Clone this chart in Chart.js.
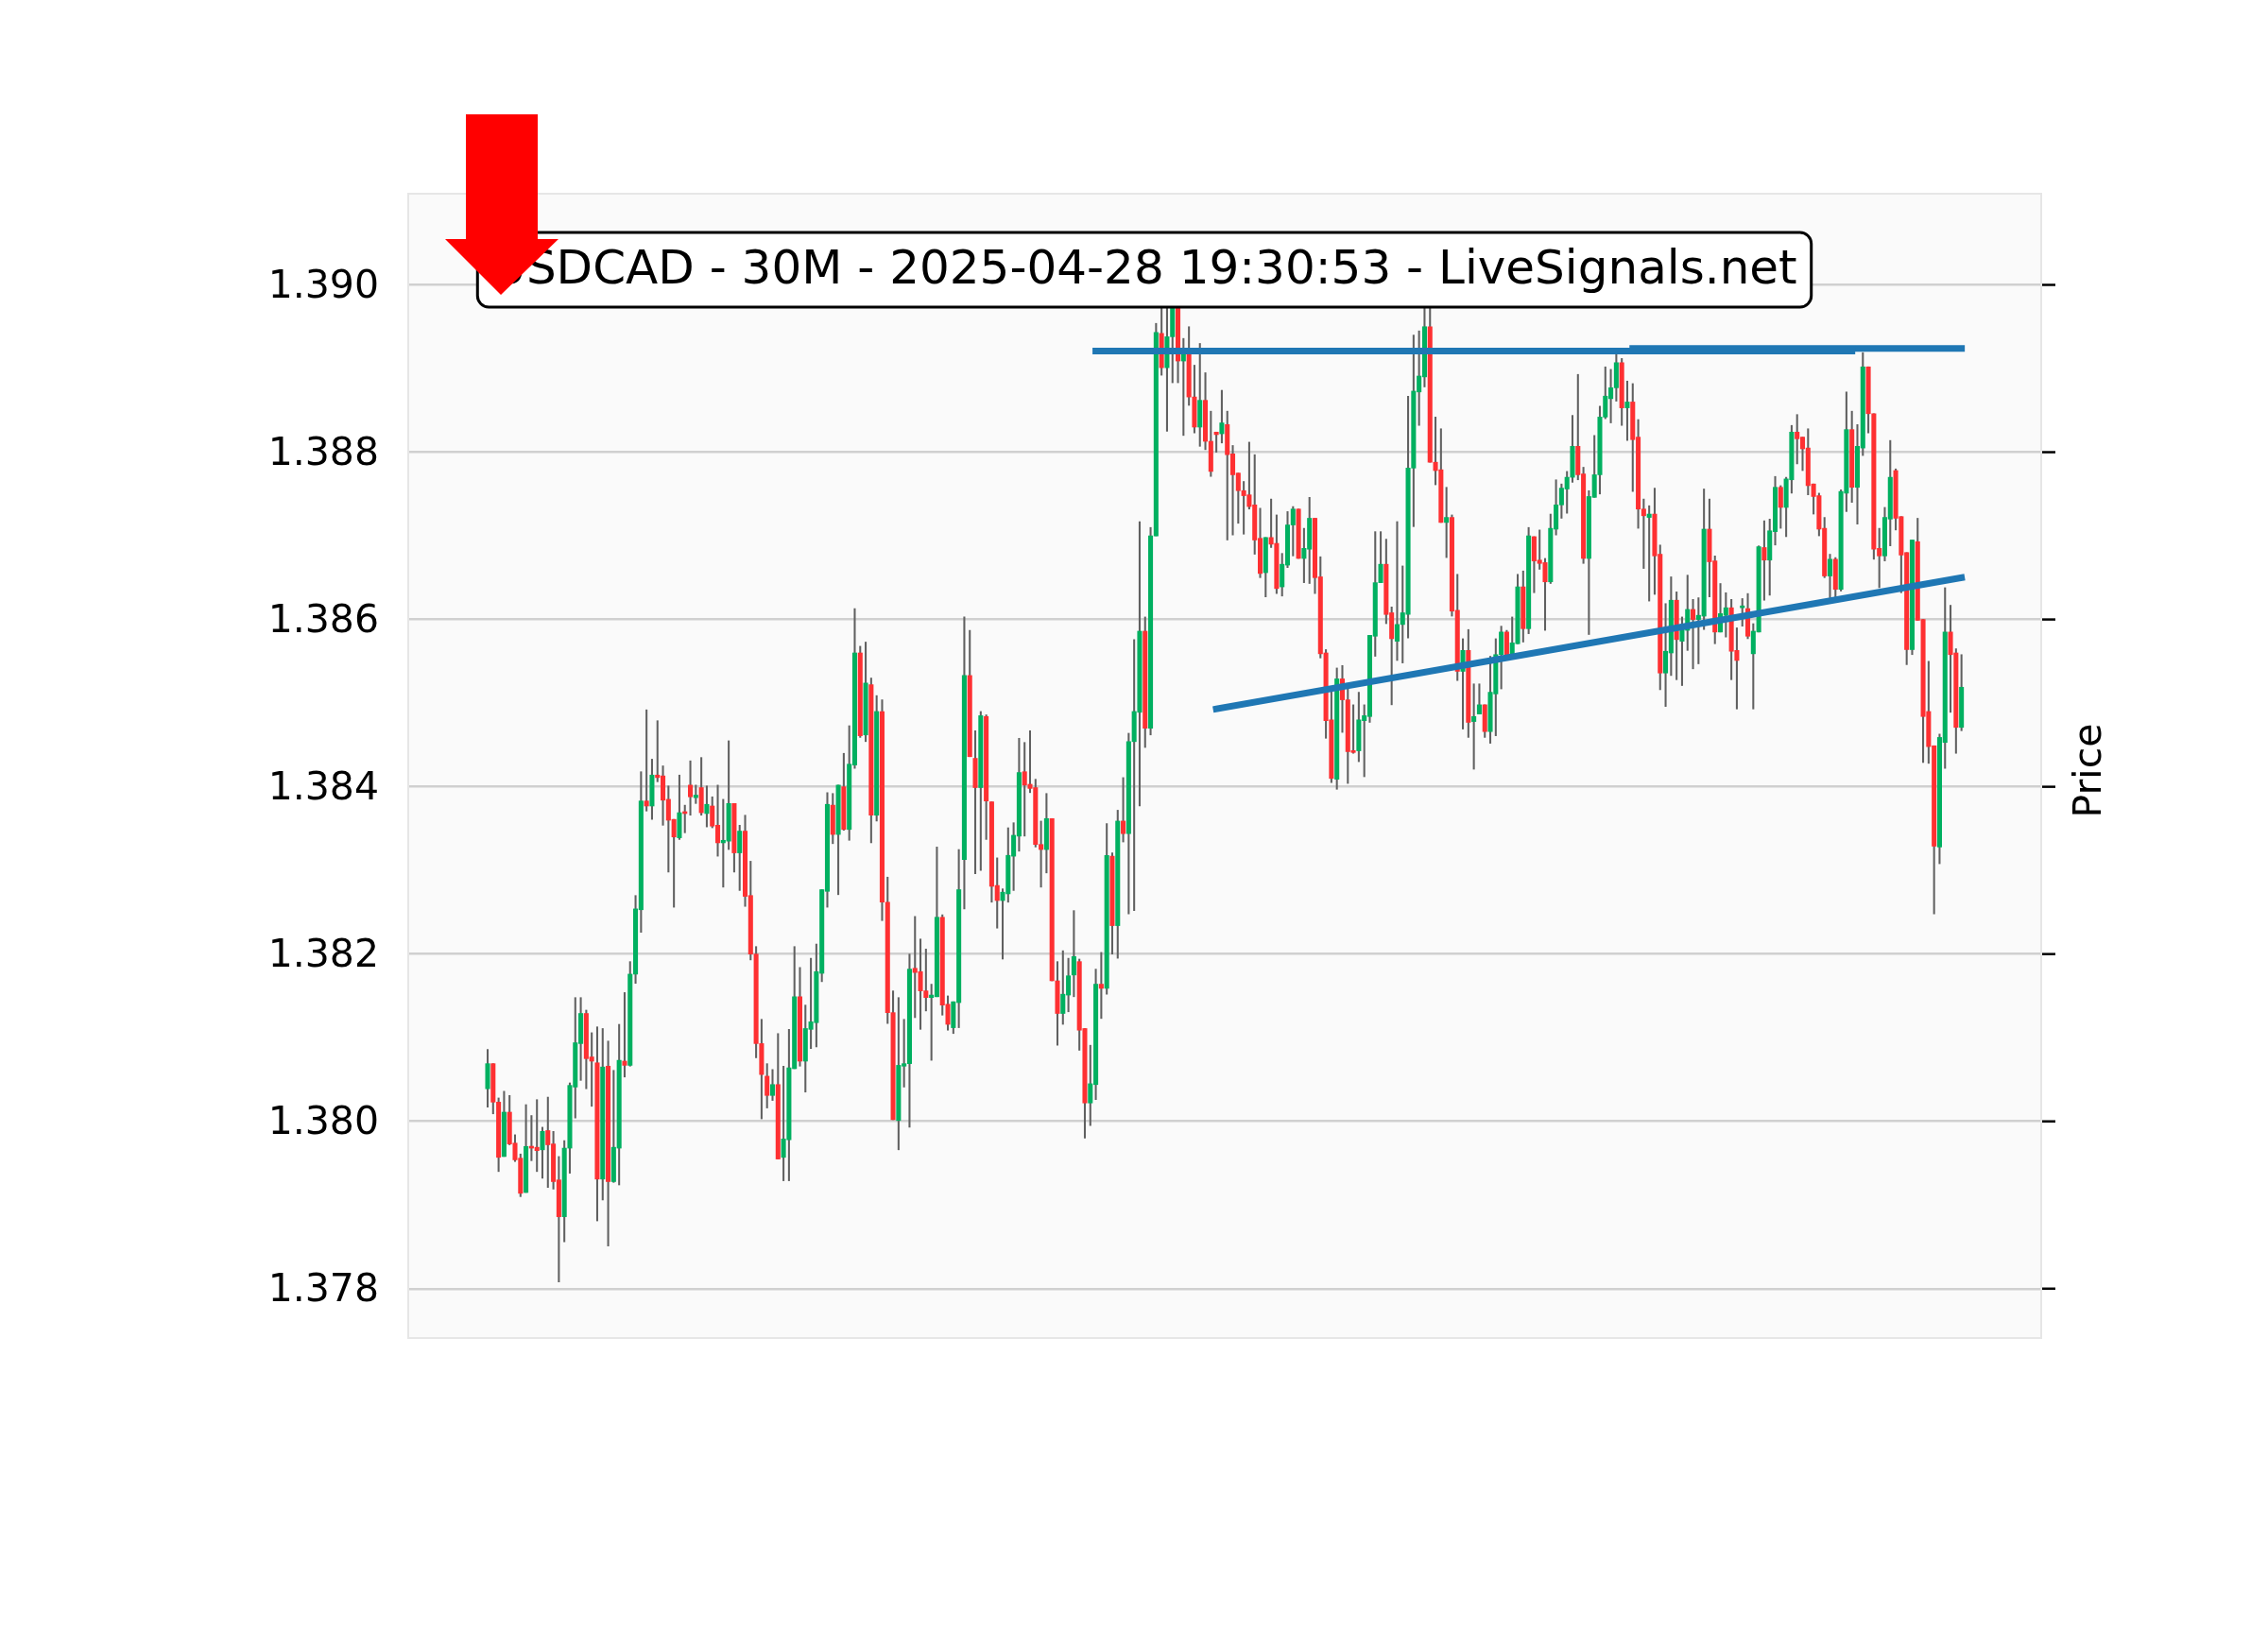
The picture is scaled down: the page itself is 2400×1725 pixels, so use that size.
<!DOCTYPE html>
<html>
<head>
<meta charset="utf-8">
<script src="https://cdn.jsdelivr.net/npm/chart.js@4.4.1/dist/chart.umd.min.js"></script>
<style>
  html, body { margin: 0; padding: 0; background: #ffffff; }
  canvas { display: block; }
</style>
</head>
<body>
<canvas id="chart" width="2400" height="1725"></canvas>
<script>
// USDCAD 30M candles (candle index 0..269)
const opens = [
  1.38039, 1.38069, 1.38023, 1.37958, 1.38011, 1.37974, 1.37956, 1.37915, 1.37970, 1.37969,
  1.37966, 1.37989, 1.37973, 1.37930, 1.37886, 1.37968, 1.38041, 1.38093, 1.38129, 1.38077,
  1.38070, 1.37931, 1.38066, 1.37928, 1.37968, 1.38072, 1.38067, 1.38176, 1.38253, 1.38383,
  1.38377, 1.38414, 1.38413, 1.38385, 1.38361, 1.38339, 1.38369, 1.38402, 1.38387, 1.38399,
  1.38368, 1.38377, 1.38354, 1.38333, 1.38335, 1.38380, 1.38321, 1.38347, 1.38270, 1.38200,
  1.38093, 1.38054, 1.38031, 1.38044, 1.37957, 1.37978, 1.38063, 1.38149, 1.38072, 1.38110,
  1.38118, 1.38177, 1.38275, 1.38378, 1.38343, 1.38400, 1.38349, 1.38426, 1.38560, 1.38462,
  1.38522, 1.38366, 1.38490, 1.38262, 1.38130, 1.38001, 1.38066, 1.38069, 1.38183, 1.38179,
  1.38156, 1.38148, 1.38149, 1.38244, 1.38140, 1.38112, 1.38142, 1.38313, 1.38533, 1.38434,
  1.38399, 1.38484, 1.38382, 1.38282, 1.38264, 1.38272, 1.38317, 1.38341, 1.38418, 1.38403,
  1.38399, 1.38331, 1.38325, 1.38362, 1.38168, 1.38129, 1.38151, 1.38175, 1.38191, 1.38111,
  1.38022, 1.38044, 1.38164, 1.38159, 1.38317, 1.38234, 1.38359, 1.38344, 1.38454, 1.38489,
  1.38586, 1.38470, 1.38700, 1.38942, 1.38901, 1.38938, 1.38975, 1.38909, 1.38917, 1.38866,
  1.38830, 1.38862, 1.38813, 1.38824, 1.38822, 1.38833, 1.38798, 1.38775, 1.38754, 1.38749,
  1.38737, 1.38697, 1.38656, 1.38698, 1.38691, 1.38639, 1.38665, 1.38713, 1.38732, 1.38673,
  1.38684, 1.38721, 1.38651, 1.38560, 1.38480, 1.38409, 1.38529, 1.38504, 1.38442, 1.38443,
  1.38479, 1.38484, 1.38580, 1.38644, 1.38666, 1.38608, 1.38574, 1.38594, 1.38606, 1.38781,
  1.38872, 1.38890, 1.38950, 1.38788, 1.38779, 1.38716, 1.38722, 1.38611, 1.38538, 1.38563,
  1.38478, 1.38487, 1.38498, 1.38466, 1.38511, 1.38558, 1.38585, 1.38558, 1.38571, 1.38639,
  1.38589, 1.38699, 1.38671, 1.38668, 1.38645, 1.38708, 1.38737, 1.38756, 1.38770, 1.38807,
  1.38774, 1.38673, 1.38746, 1.38773, 1.38842, 1.38864, 1.38877, 1.38907, 1.38853, 1.38860,
  1.38818, 1.38732, 1.38722, 1.38726, 1.38678, 1.38536, 1.38560, 1.38623, 1.38574, 1.38587,
  1.38612, 1.38600, 1.38604, 1.38708, 1.38670, 1.38585, 1.38605, 1.38614, 1.38563, 1.38614,
  1.38613, 1.38559, 1.38585, 1.38686, 1.38671, 1.38705, 1.38758, 1.38734, 1.38767, 1.38824,
  1.38818, 1.38805, 1.38762, 1.38748, 1.38709, 1.38652, 1.38672, 1.38636, 1.38751, 1.38827,
  1.38758, 1.38805, 1.38902, 1.38846, 1.38685, 1.38676, 1.38720, 1.38778, 1.38723, 1.38680,
  1.38564, 1.38693, 1.38600, 1.38490, 1.38449, 1.38328, 1.38453, 1.38585, 1.38560, 1.38471
];
const highs = [
  1.38086, 1.38069, 1.38028, 1.38036, 1.38031, 1.37984, 1.37961, 1.38020, 1.38007, 1.38026,
  1.37993, 1.38029, 1.37988, 1.37958, 1.37977, 1.38046, 1.38148, 1.38148, 1.38133, 1.38106,
  1.38113, 1.38111, 1.38096, 1.38061, 1.38116, 1.38154, 1.38191, 1.38270, 1.38418, 1.38492,
  1.38433, 1.38479, 1.38425, 1.38401, 1.38361, 1.38414, 1.38378, 1.38431, 1.38402, 1.38435,
  1.38401, 1.38388, 1.38402, 1.38385, 1.38455, 1.38380, 1.38354, 1.38366, 1.38311, 1.38209,
  1.38122, 1.38069, 1.38062, 1.38105, 1.38066, 1.38110, 1.38209, 1.38184, 1.38139, 1.38195,
  1.38212, 1.38277, 1.38393, 1.38392, 1.38402, 1.38440, 1.38473, 1.38613, 1.38568, 1.38573,
  1.38530, 1.38509, 1.38504, 1.38292, 1.38156, 1.38148, 1.38122, 1.38200, 1.38245, 1.38218,
  1.38206, 1.38164, 1.38328, 1.38247, 1.38150, 1.38143, 1.38325, 1.38603, 1.38587, 1.38467,
  1.38490, 1.38486, 1.38382, 1.38315, 1.38278, 1.38351, 1.38357, 1.38458, 1.38453, 1.38467,
  1.38409, 1.38359, 1.38392, 1.38362, 1.38191, 1.38204, 1.38195, 1.38252, 1.38194, 1.38111,
  1.38091, 1.38182, 1.38202, 1.38356, 1.38321, 1.38372, 1.38411, 1.38464, 1.38576, 1.38717,
  1.38603, 1.38710, 1.38954, 1.38972, 1.38972, 1.38990, 1.38990, 1.38936, 1.38950, 1.38904,
  1.38930, 1.38895, 1.38849, 1.38824, 1.38874, 1.38849, 1.38808, 1.38775, 1.38765, 1.38812,
  1.38797, 1.38733, 1.38698, 1.38744, 1.38725, 1.38679, 1.38729, 1.38735, 1.38732, 1.38709,
  1.38746, 1.38721, 1.38675, 1.38564, 1.38514, 1.38542, 1.38545, 1.38517, 1.38498, 1.38513,
  1.38498, 1.38581, 1.38705, 1.38705, 1.38696, 1.38615, 1.38717, 1.38664, 1.38867, 1.38940,
  1.38945, 1.38985, 1.38990, 1.38842, 1.38828, 1.38758, 1.38725, 1.38654, 1.38577, 1.38588,
  1.38523, 1.38523, 1.38498, 1.38556, 1.38577, 1.38592, 1.38587, 1.38603, 1.38654, 1.38658,
  1.38710, 1.38699, 1.38707, 1.38673, 1.38726, 1.38767, 1.38762, 1.38777, 1.38844, 1.38893,
  1.38782, 1.38754, 1.38820, 1.38855, 1.38902, 1.38899, 1.38918, 1.38912, 1.38885, 1.38882,
  1.38839, 1.38744, 1.38736, 1.38757, 1.38689, 1.38619, 1.38651, 1.38633, 1.38603, 1.38653,
  1.38624, 1.38626, 1.38756, 1.38744, 1.38676, 1.38643, 1.38632, 1.38624, 1.38590, 1.38625,
  1.38631, 1.38595, 1.38688, 1.38718, 1.38720, 1.38771, 1.38760, 1.38770, 1.38832, 1.38845,
  1.38818, 1.38828, 1.38762, 1.38751, 1.38722, 1.38678, 1.38674, 1.38755, 1.38872, 1.38849,
  1.38833, 1.38919, 1.38902, 1.38846, 1.38709, 1.38734, 1.38814, 1.38780, 1.38723, 1.38680,
  1.38695, 1.38721, 1.38600, 1.38550, 1.38449, 1.38463, 1.38638, 1.38617, 1.38565, 1.38558
];
const lows = [
  1.38017, 1.38009, 1.37940, 1.37958, 1.37972, 1.37952, 1.37910, 1.37915, 1.37953, 1.37940,
  1.37932, 1.37921, 1.37919, 1.37808, 1.37856, 1.37938, 1.38004, 1.38049, 1.38039, 1.38018,
  1.37881, 1.37906, 1.37851, 1.37927, 1.37924, 1.38053, 1.38066, 1.38165, 1.38226, 1.38371,
  1.38361, 1.38406, 1.38354, 1.38298, 1.38256, 1.38337, 1.38345, 1.38366, 1.38380, 1.38366,
  1.38352, 1.38351, 1.38317, 1.38280, 1.38325, 1.38298, 1.38276, 1.38257, 1.38193, 1.38076,
  1.38003, 1.38016, 1.38025, 1.37955, 1.37929, 1.37929, 1.38063, 1.38066, 1.38035, 1.38087,
  1.38089, 1.38167, 1.38256, 1.38332, 1.38271, 1.38348, 1.38336, 1.38422, 1.38459, 1.38454,
  1.38333, 1.38359, 1.38240, 1.38117, 1.38002, 1.37966, 1.38041, 1.37993, 1.38124, 1.38110,
  1.38132, 1.38073, 1.38149, 1.38127, 1.38109, 1.38105, 1.38112, 1.38254, 1.38436, 1.38296,
  1.38300, 1.38337, 1.38262, 1.38231, 1.38194, 1.38262, 1.38276, 1.38323, 1.38341, 1.38393,
  1.38328, 1.38280, 1.38297, 1.38168, 1.38091, 1.38116, 1.38131, 1.38149, 1.38085, 1.37980,
  1.37995, 1.38026, 1.38123, 1.38152, 1.38200, 1.38195, 1.38334, 1.38248, 1.38252, 1.38377,
  1.38447, 1.38462, 1.38700, 1.38892, 1.38825, 1.38883, 1.38883, 1.38820, 1.38856, 1.38823,
  1.38807, 1.38803, 1.38771, 1.38800, 1.38811, 1.38695, 1.38701, 1.38715, 1.38702, 1.38732,
  1.38678, 1.38650, 1.38627, 1.38686, 1.38631, 1.38628, 1.38662, 1.38676, 1.38673, 1.38644,
  1.38643, 1.38631, 1.38554, 1.38458, 1.38405, 1.38397, 1.38465, 1.38404, 1.38440, 1.38430,
  1.38412, 1.38477, 1.38556, 1.38644, 1.38595, 1.38498, 1.38551, 1.38548, 1.38578, 1.38711,
  1.38832, 1.38878, 1.38788, 1.38761, 1.38716, 1.38674, 1.38604, 1.38527, 1.38469, 1.38459,
  1.38421, 1.38487, 1.38459, 1.38452, 1.38461, 1.38517, 1.38558, 1.38558, 1.38571, 1.38573,
  1.38583, 1.38632, 1.38660, 1.38587, 1.38643, 1.38701, 1.38721, 1.38727, 1.38764, 1.38767,
  1.38667, 1.38582, 1.38746, 1.38750, 1.38840, 1.38835, 1.38861, 1.38832, 1.38814, 1.38753,
  1.38709, 1.38661, 1.38622, 1.38630, 1.38516, 1.38496, 1.38533, 1.38528, 1.38521, 1.38563,
  1.38541, 1.38547, 1.38588, 1.38627, 1.38571, 1.38585, 1.38579, 1.38528, 1.38493, 1.38592,
  1.38577, 1.38493, 1.38585, 1.38623, 1.38629, 1.38689, 1.38709, 1.38699, 1.38751, 1.38786,
  1.38778, 1.38749, 1.38726, 1.38700, 1.38650, 1.38626, 1.38626, 1.38634, 1.38729, 1.38740,
  1.38714, 1.38796, 1.38823, 1.38672, 1.38638, 1.38670, 1.38688, 1.38707, 1.38632, 1.38546,
  1.38558, 1.38599, 1.38429, 1.38428, 1.38248, 1.38308, 1.38422, 1.38489, 1.38440, 1.38467
];
const closes = [
  1.38069, 1.38023, 1.37957, 1.38011, 1.37973, 1.37954, 1.37914, 1.37970, 1.37968, 1.37965,
  1.37988, 1.37972, 1.37928, 1.37886, 1.37968, 1.38043, 1.38094, 1.38129, 1.38075, 1.38072,
  1.37931, 1.38065, 1.37928, 1.37969, 1.38073, 1.38067, 1.38176, 1.38254, 1.38383, 1.38377,
  1.38414, 1.38411, 1.38384, 1.38360, 1.38340, 1.38369, 1.38368, 1.38388, 1.38390, 1.38369,
  1.38379, 1.38353, 1.38333, 1.38336, 1.38380, 1.38321, 1.38347, 1.38269, 1.38200, 1.38093,
  1.38056, 1.38031, 1.38044, 1.37955, 1.37979, 1.38064, 1.38149, 1.38072, 1.38111, 1.38119,
  1.38179, 1.38277, 1.38379, 1.38343, 1.38402, 1.38349, 1.38427, 1.38560, 1.38461, 1.38524,
  1.38366, 1.38490, 1.38262, 1.38130, 1.38002, 1.38067, 1.38069, 1.38182, 1.38178, 1.38156,
  1.38148, 1.38151, 1.38244, 1.38139, 1.38116, 1.38143, 1.38277, 1.38533, 1.38436, 1.38399,
  1.38485, 1.38383, 1.38281, 1.38264, 1.38274, 1.38318, 1.38342, 1.38417, 1.38402, 1.38398,
  1.38331, 1.38325, 1.38362, 1.38168, 1.38129, 1.38152, 1.38174, 1.38197, 1.38109, 1.38022,
  1.38045, 1.38164, 1.38159, 1.38318, 1.38234, 1.38359, 1.38344, 1.38454, 1.38490, 1.38586,
  1.38470, 1.38700, 1.38943, 1.38901, 1.38938, 1.38975, 1.38909, 1.38921, 1.38866, 1.38830,
  1.38862, 1.38813, 1.38777, 1.38821, 1.38835, 1.38797, 1.38773, 1.38754, 1.38748, 1.38735,
  1.38695, 1.38655, 1.38698, 1.38690, 1.38637, 1.38666, 1.38713, 1.38732, 1.38673, 1.38685,
  1.38721, 1.38650, 1.38559, 1.38479, 1.38410, 1.38529, 1.38504, 1.38442, 1.38441, 1.38480,
  1.38485, 1.38581, 1.38644, 1.38666, 1.38606, 1.38577, 1.38594, 1.38608, 1.38781, 1.38873,
  1.38891, 1.38950, 1.38788, 1.38778, 1.38716, 1.38722, 1.38610, 1.38538, 1.38563, 1.38477,
  1.38484, 1.38498, 1.38466, 1.38513, 1.38558, 1.38585, 1.38558, 1.38572, 1.38639, 1.38589,
  1.38700, 1.38670, 1.38667, 1.38645, 1.38709, 1.38737, 1.38757, 1.38770, 1.38807, 1.38773,
  1.38673, 1.38747, 1.38773, 1.38842, 1.38867, 1.38877, 1.38907, 1.38853, 1.38860, 1.38815,
  1.38732, 1.38724, 1.38726, 1.38676, 1.38536, 1.38562, 1.38623, 1.38576, 1.38588, 1.38612,
  1.38600, 1.38605, 1.38708, 1.38669, 1.38585, 1.38607, 1.38614, 1.38562, 1.38551, 1.38615,
  1.38580, 1.38586, 1.38687, 1.38671, 1.38706, 1.38758, 1.38734, 1.38768, 1.38824, 1.38816,
  1.38804, 1.38760, 1.38747, 1.38708, 1.38652, 1.38672, 1.38636, 1.38753, 1.38827, 1.38758,
  1.38807, 1.38902, 1.38846, 1.38684, 1.38676, 1.38722, 1.38770, 1.38721, 1.38677, 1.38564,
  1.38695, 1.38599, 1.38484, 1.38448, 1.38329, 1.38459, 1.38585, 1.38558, 1.38471, 1.38519
];

const yTicks = [1.378, 1.380, 1.382, 1.384, 1.386, 1.388, 1.390];
const titleText = 'USDCAD - 30M - 2025-04-28 19:30:53 - LiveSignals.net';

// trend lines, as candle index / price pairs
const resistanceA = [{ x: 111, y: 1.38921 }, { x: 249, y: 1.38921 }];
const resistanceB = [{ x: 209, y: 1.38924 }, { x: 269, y: 1.38924 }];
const supportLine = [{ x: 133, y: 1.38493 }, { x: 269, y: 1.38650 }];

const upColor = '#00b060';
const downColor = '#fe3032';
const wickColor = '#606060';
const lineBlue = '#1f77b4';

const bodies = opens.map((o, i) => ({ x: i, y: [o, closes[i]] }));
const wicks = highs.map((h, i) => ({ x: i, y: [lows[i], h] }));
const candleColor = (ctx) => {
    const i = ctx.dataIndex;
    return closes[i] >= opens[i] ? upColor : downColor;
};

// page background, plot face, frame, right tick marks, axis label, title box, arrow
const decorations = {
    id: 'decorations',
    beforeDraw(chart) {
        const { ctx, chartArea: a } = chart;
        ctx.save();
        ctx.fillStyle = '#ffffff';
        ctx.fillRect(0, 0, chart.width, chart.height);
        ctx.fillStyle = '#fafafa';
        ctx.fillRect(a.left, a.top, a.right - a.left, a.bottom - a.top);
        ctx.restore();
    },
    afterDraw(chart) {
        const { ctx, chartArea: a } = chart;
        const yScale = chart.scales.y;
        ctx.save();

        ctx.strokeStyle = '#e6e6e6';
        ctx.lineWidth = 2;
        ctx.strokeRect(a.left, a.top, a.right - a.left, a.bottom - a.top);

        ctx.strokeStyle = '#000000';
        ctx.lineWidth = 2.5;
        yTicks.forEach(v => {
            const y = yScale.getPixelForValue(v);
            ctx.beginPath();
            ctx.moveTo(a.right + 1, y);
            ctx.lineTo(a.right + 15, y);
            ctx.stroke();
        });

        ctx.fillStyle = '#000000';
        ctx.font = '41px "DejaVu Sans"';
        ctx.textAlign = 'center';
        ctx.textBaseline = 'middle';
        ctx.translate(a.right + 52, (a.top + a.bottom) / 2 + 5);
        ctx.rotate(-Math.PI / 2);
        ctx.fillText('Price', 0, 0);
        ctx.setTransform(1, 0, 0, 1, 0, 0);

        // title box
        ctx.font = '50px "DejaVu Sans"';
        const tw = ctx.measureText(titleText).width;
        const cx = 1211, cy = 285.5;
        const bw = tw + 30, bh = 79;
        ctx.beginPath();
        ctx.roundRect(cx - bw / 2, cy - bh / 2, bw, bh, 12);
        ctx.fillStyle = '#ffffff';
        ctx.fill();
        ctx.lineWidth = 3;
        ctx.strokeStyle = '#000000';
        ctx.stroke();
        ctx.fillStyle = '#000000';
        ctx.textAlign = 'center';
        ctx.textBaseline = 'middle';
        ctx.fillText(titleText, cx, cy + 2);

        // sell arrow
        ctx.fillStyle = '#ff0000';
        ctx.beginPath();
        ctx.moveTo(493, 121);
        ctx.lineTo(569, 121);
        ctx.lineTo(569, 253);
        ctx.lineTo(591, 253);
        ctx.lineTo(530, 312);
        ctx.lineTo(471, 253);
        ctx.lineTo(493, 253);
        ctx.closePath();
        ctx.fill();

        ctx.restore();
    }
};

new Chart(document.getElementById('chart'), {
    type: 'bar',
    data: {
        datasets: [
            {
                type: 'line',
                data: resistanceA,
                borderColor: lineBlue,
                borderWidth: 7,
                pointRadius: 0,
                borderCapStyle: 'square',
                fill: false,
                order: 0
            },
            {
                type: 'line',
                data: resistanceB,
                borderColor: lineBlue,
                borderWidth: 7,
                pointRadius: 0,
                borderCapStyle: 'square',
                fill: false,
                order: 0
            },
            {
                type: 'line',
                data: supportLine,
                borderColor: lineBlue,
                borderWidth: 7,
                pointRadius: 0,
                borderCapStyle: 'square',
                fill: false,
                order: 0
            },
            {
                data: bodies,
                backgroundColor: candleColor,
                barThickness: 4.4,
                minBarLength: 2,
                grouped: false,
                order: 1
            },
            {
                data: wicks,
                backgroundColor: wickColor,
                barThickness: 1.4,
                grouped: false,
                order: 2
            }
        ]
    },
    options: {
        responsive: false,
        animation: false,
        devicePixelRatio: 1,
        layout: { padding: { left: 0, top: 205, right: 240, bottom: 309 } },
        plugins: {
            legend: { display: false },
            tooltip: { enabled: false }
        },
        scales: {
            x: {
                type: 'linear',
                min: -14.49,
                max: 283.55,
                offset: false,
                display: false
            },
            y: {
                type: 'linear',
                min: 1.37741,
                max: 1.39109,
                beginAtZero: false,
                afterFit: (s) => { s.width = 432; },
                afterBuildTicks: (s) => { s.ticks = yTicks.map(v => ({ value: v })); },
                ticks: {
                    callback: (v) => Number(v).toFixed(3),
                    color: '#000000',
                    font: { family: 'DejaVu Sans', size: 41 },
                    padding: 31,
                    labelOffset: 3
                },
                grid: { color: '#d0d0d0', lineWidth: 2.5, drawTicks: false },
                border: { display: false }
            }
        }
    },
    plugins: [decorations]
});
</script>
</body>
</html>
